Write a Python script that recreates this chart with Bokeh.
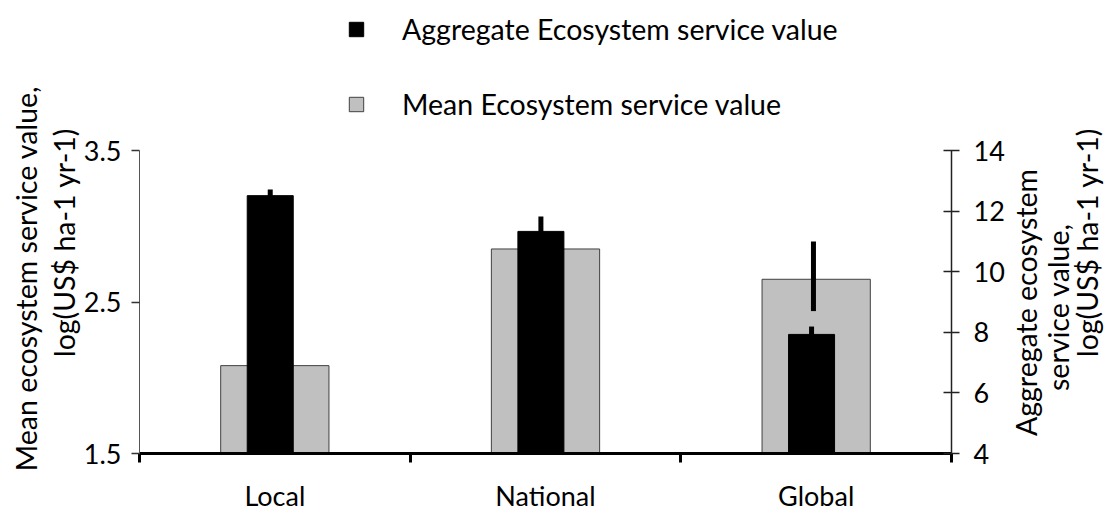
import numpy as np
from bokeh.plotting import figure
from bokeh.models import (Range1d, LinearAxis, FixedTicker, Legend, LegendItem, Label)
from bokeh.embed import file_html
from bokeh.resources import INLINE

# ---------------- data ----------------
categories = ["Local", "National", "Global"]
mean_value = [2.08, 2.85, 2.65]            # left axis, log(US$ ha-1 yr-1)
aggregate_value = [12.51, 11.33, 7.93]     # right axis
aggregate_err = [0.20, 0.49, 0.26]
mean_err_low = [np.nan, np.nan, 2.44]      # only the Global one is visible
mean_err_high = [np.nan, np.nan, 2.90]
left_ticks = [1.5, 2.5, 3.5]
right_ticks = [4, 6, 8, 10, 12, 14]
series_names = ["Aggregate Ecosystem service value", "Mean Ecosystem service value"]
left_title = ["Mean ecosystem service value,", "log(US$ ha-1 yr-1)"]
right_title = ["Aggregate ecosystem", "service  value,", "log(US$ ha-1 yr-1)"]

# ---------------- style / layout ----------------
FONT = "Lato"
FS = "27px"
FS_BIG = "28.5px"
GRAY = "#C0C0C0"
W, H = 1104, 511
PX_L, PX_R, PX_T, PX_B = 139, 951, 150, 453   # plot area in canvas pixels

n = len(categories)
xc = np.arange(n) + 0.5
AGG_SHIFT = -0.017
agg = np.array(aggregate_value)
aerr = np.array(aggregate_err)


def x_extent(lo, hi):
    u = (PX_R - PX_L) / (hi - lo)
    return lo - PX_L / u, hi + (W - PX_R) / u


def y_extent(lo, hi):
    u = (PX_B - PX_T) / (hi - lo)
    return lo - (H - PX_B) / u, hi + PX_T / u


p = figure(width=W, height=H, output_backend="svg", toolbar_location=None,
           x_range=Range1d(*x_extent(0, n)),
           y_range=Range1d(*y_extent(left_ticks[0], left_ticks[-1])),
           x_axis_location=None, y_axis_location=None, min_border=0)
p.title.visible = False
p.extra_y_ranges = {"agg": Range1d(*y_extent(right_ticks[0], right_ticks[-1]))}
p.grid.visible = False
p.outline_line_color = None
p.background_fill_color = "white"
p.border_fill_color = "white"

gray = p.vbar(x=xc, top=mean_value, bottom=left_ticks[0], width=0.4,
              fill_color=GRAY, line_color="#404040", line_width=1)
black = p.vbar(x=xc + AGG_SHIFT, top=aggregate_value, bottom=right_ticks[0], width=0.17,
               fill_color="black", line_color="black", line_width=1, y_range_name="agg")
p.segment(x0=xc + AGG_SHIFT, x1=xc + AGG_SHIFT, y0=agg - aerr, y1=agg + aerr,
          line_width=5, line_color="black", y_range_name="agg")
p.segment(x0=xc - 0.01, x1=xc - 0.01, y0=mean_err_low, y1=mean_err_high,
          line_width=5, line_color="black")

# x axis (fixed at the bottom of the value range)
xa = LinearAxis(fixed_location=left_ticks[0], bounds=(0, n),
                ticker=FixedTicker(ticks=list(xc), minor_ticks=list(range(n + 1))))
xa.major_label_overrides = {float(v): c for v, c in zip(xc, categories)}
xa.major_tick_out = 0
xa.major_tick_in = 0
xa.minor_tick_out = 9
xa.minor_tick_in = 0
xa.minor_tick_line_width = 3
xa.minor_tick_line_color = "black"
xa.axis_line_width = 3
xa.axis_line_color = "black"
xa.major_label_standoff = 16
xa.major_label_text_font = FONT
xa.major_label_text_font_size = FS
xa.major_label_text_color = "black"
p.add_layout(xa, "below")

# left axis
ya = LinearAxis(fixed_location=0, bounds=(left_ticks[0], left_ticks[-1]),
                ticker=FixedTicker(ticks=left_ticks))
ya.axis_line_color = "#555555"
ya.axis_line_width = 1
ya.major_tick_line_color = "#333333"
ya.major_tick_line_width = 1.5
ya.major_tick_out = 8
ya.major_tick_in = 0
ya.minor_tick_line_color = None
ya.major_label_standoff = 10
ya.major_label_text_font = FONT
ya.major_label_text_font_size = FS
ya.major_label_text_color = "black"
p.add_layout(ya, "left")

# right axis
ra = LinearAxis(y_range_name="agg", fixed_location=n,
                bounds=(right_ticks[0], right_ticks[-1]),
                ticker=FixedTicker(ticks=right_ticks))
ra.axis_line_color = "#222222"
ra.axis_line_width = 1.5
ra.major_tick_line_color = "#222222"
ra.major_tick_line_width = 1.5
ra.major_tick_out = 8
ra.major_tick_in = 8
ra.minor_tick_line_color = None
ra.major_label_standoff = 14
ra.major_label_text_font = FONT
ra.major_label_text_font_size = FS
ra.major_label_text_color = "black"
p.add_layout(ra, "right")

# legend (above the plot area)
legend = Legend(items=[LegendItem(label=series_names[0], renderers=[black]),
                       LegendItem(label=series_names[1], renderers=[gray])],
                location=(347, H - 121), glyph_width=18, glyph_height=18, label_standoff=37,
                spacing=41, padding=0, margin=0, border_line_color=None,
                background_fill_alpha=0, label_text_font=FONT, label_text_font_size=FS_BIG,
                label_text_color="black")
p.add_layout(legend)


# axis titles (rotated, reading upwards)
def title(txt, cx, cy):
    p.add_layout(Label(x=cx, y=H - cy, x_units="screen", y_units="screen", text=txt,
                       angle=np.pi / 2, text_align="center", text_baseline="middle",
                       text_font=FONT, text_font_size=FS_BIG, text_color="black"))


title(left_title[0], 25, 278)
title(left_title[1], 63, 242)
title(right_title[0], 1025, 302)
title(right_title[1], 1057, 303)
title(right_title[2], 1086, 242)

open("out.html", "w").write(file_html(p, INLINE))
